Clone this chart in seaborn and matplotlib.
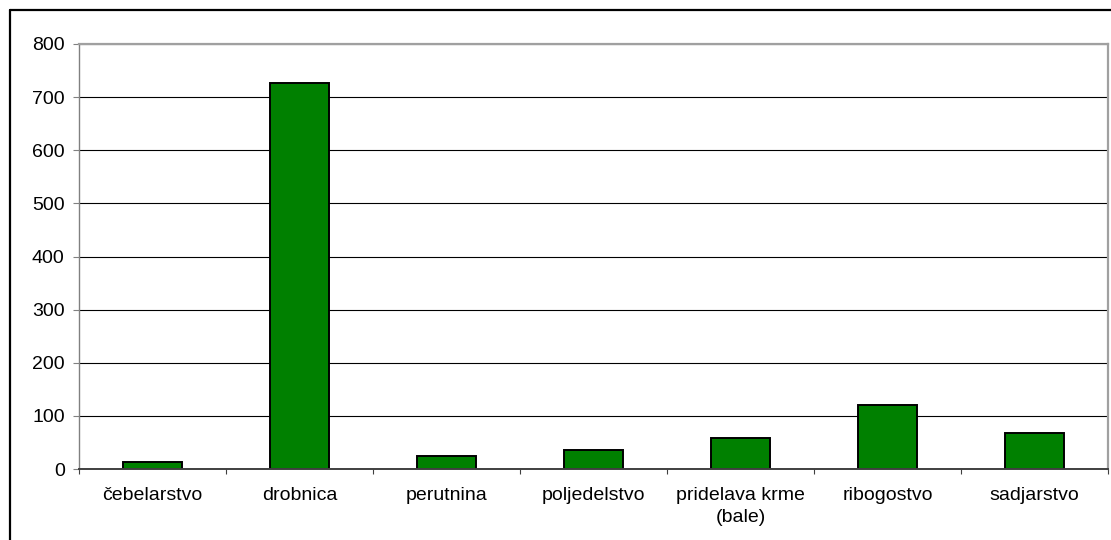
import matplotlib
matplotlib.use("Agg")
import matplotlib.pyplot as plt
import seaborn as sns
import pandas as pd
import numpy as np
from matplotlib.lines import Line2D

categories = ["čebelarstvo", "drobnica", "perutnina", "poljedelstvo",
              "pridelava krme\n(bale)", "ribogostvo", "sadjarstvo"]
values = [14, 727, 24, 35, 58, 121, 67]
y_ticks = [0, 100, 200, 300, 400, 500, 600, 700, 800]

df = pd.DataFrame({"kategorija": categories, "vrednost": values})

sns.set_style("white")
plt.rcParams["font.family"] = ["Liberation Sans", "DejaVu Sans"]

W, H = 1111, 540
fig = plt.figure(figsize=(W / 100, H / 100), dpi=100)
ax = fig.add_axes([79 / W, 1 - 469 / H, (1108 - 79) / W, (469 - 44) / H])

sns.barplot(data=df, x="kategorija", y="vrednost", color="#008000",
            saturation=1, width=0.4, edgecolor="black", linewidth=1.4,
            ax=ax, zorder=3)

ax.set_xlim(-0.5, len(categories) - 0.5)
ax.set_ylim(0, 800)
ax.set_yticks(y_ticks)
ax.set_yticklabels([str(v) for v in y_ticks])
ax.set_xlabel("")
ax.set_ylabel("")

# gridlines
ax.yaxis.grid(True, color="black", linewidth=0.8, zorder=1)
ax.xaxis.grid(False)
ax.set_axisbelow(True)

# ticks
ax.tick_params(axis="y", which="major", length=4.3, width=0.8, color="#808080",
               direction="out", pad=6, labelsize=14, labelcolor="black", left=True)
ax.set_xticks(np.arange(-0.5, len(categories), 1.0), minor=True)
ax.tick_params(axis="x", which="minor", length=3.6, width=0.8, color="#404040",
               direction="out", bottom=True)
ax.tick_params(axis="x", which="major", length=0, pad=13, labelsize=14,
               labelcolor="black")
for lbl in ax.get_xticklabels():
    lbl.set_linespacing(1.35)

# spines
for s in ["top", "right"]:
    ax.spines[s].set_visible(True)
    ax.spines[s].set_color("#a0a0a0")
    ax.spines[s].set_linewidth(1.6)
ax.spines["left"].set_color("#808080")
ax.spines["left"].set_linewidth(1.0)
ax.spines["bottom"].set_color("#404040")
ax.spines["bottom"].set_linewidth(1.4)
for s in ax.spines.values():
    s.set_zorder(4)

# outer chart border (partially visible)
fig.add_artist(Line2D([9.5 / W, 9.5 / W], [0, 1 - 9.5 / H], transform=fig.transFigure,
                      color="black", linewidth=1.6))
fig.add_artist(Line2D([9.5 / W, 1], [1 - 9.5 / H, 1 - 9.5 / H], transform=fig.transFigure,
                      color="black", linewidth=1.6))

fig.savefig("out.png", dpi=100, facecolor="white")
